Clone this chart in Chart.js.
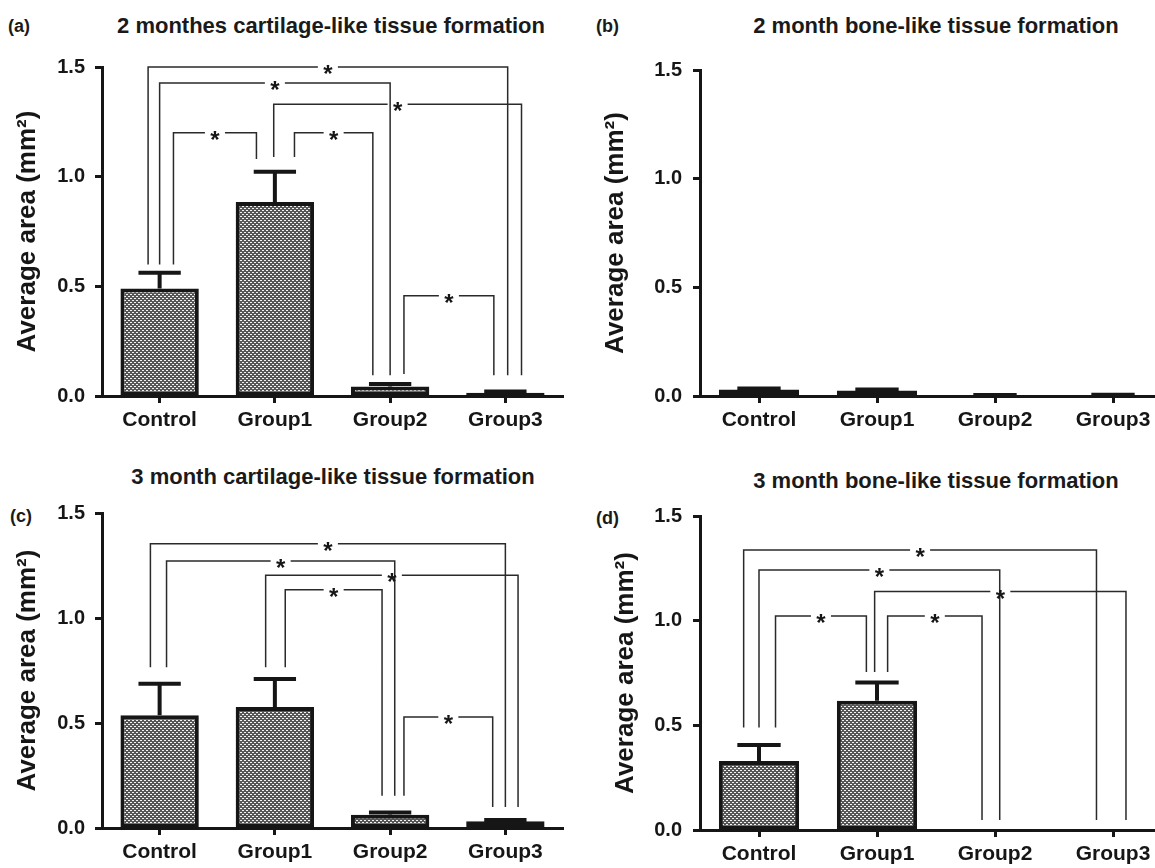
<!DOCTYPE html>
<html>
<head>
<meta charset="utf-8">
<script src="https://cdn.jsdelivr.net/npm/chart.js@4.4.0/dist/chart.umd.min.js"></script>
<style>
  html, body { margin: 0; padding: 0; background: #fff; }
  body { position: relative; width: 1155px; height: 868px; overflow: hidden; font-family: "Liberation Sans", Arial, sans-serif; color: #1a1a1a; }
  .panel { position: absolute; }
  .ttl { position: absolute; font-weight: bold; font-size: 22px; white-space: nowrap; transform: translate(-50%, -50%); }
  .lbl { position: absolute; font-weight: bold; font-size: 18px; transform: translateY(-50%); }
</style>
</head>
<body>
<div class="lbl" style="left:8px;top:26px">(a)</div>
<div class="ttl" style="left:331px;top:26px">2 monthes cartilage-like tissue formation</div>
<div class="lbl" style="left:596px;top:26px">(b)</div>
<div class="ttl" style="left:936px;top:26px">2 month bone-like tissue formation</div>
<div class="ttl" style="left:333px;top:477px">3 month cartilage-like tissue formation</div>
<div class="lbl" style="left:10px;top:516px">(c)</div>
<div class="ttl" style="left:936px;top:481px">3 month bone-like tissue formation</div>
<div class="lbl" style="left:596px;top:518px">(d)</div>

<canvas id="ca" class="panel" width="578" height="440" style="left:0;top:0"></canvas>
<canvas id="cb" class="panel" width="600" height="440" style="left:578px;top:0"></canvas>
<canvas id="cc" class="panel" width="578" height="428" style="left:0;top:440px"></canvas>
<canvas id="cd" class="panel" width="600" height="428" style="left:578px;top:440px"></canvas>

<script>
var groups = ["Control", "Group1", "Group2", "Group3"];
var yTicks = [0, 0.5, 1.0, 1.5];

// (a) 2 months cartilage-like
var meanA = [0.49, 0.885, 0.043, 0.015];
var errA = [0.072, 0.137, 0.012, 0.005];
// significance brackets: [left x, right x, height, left leg end, right leg end]
var sigA = [
  [-0.10, 3.02, 1.50, 0.60, 0.095],
  [0.00, 2.00, 1.427, 0.60, 0.095],
  [0.99, 3.14, 1.33, 1.09, 0.095],
  [0.12, 0.84, 1.20, 0.60, 1.08],
  [1.17, 1.85, 1.20, 1.09, 0.095],
  [2.12, 2.90, 0.457, 0.10, 0.095]
];

// (b) 2 month bone-like
var meanB = [0.03, 0.025, 0.004, 0.005];
var errB = [0.005, 0.005, 0.001, 0.001];
var sigB = [];

// (c) 3 month cartilage-like
var meanC = [0.537, 0.576, 0.063, 0.032];
var errC = [0.15, 0.134, 0.011, 0.006];
var sigC = [
  [-0.08, 3.00, 1.353, 0.766, 0.10],
  [0.06, 2.04, 1.271, 0.766, 0.153],
  [0.92, 3.11, 1.203, 0.766, 0.10],
  [1.09, 1.93, 1.134, 0.766, 0.153],
  [2.12, 2.89, 0.529, 0.153, 0.10]
];

// (d) 3 month bone-like
var meanD = [0.33, 0.618, 0.003, 0.003];
var errD = [0.076, 0.087, 0, 0];
var sigD = [
  [-0.13, 2.86, 1.338, 0.49, 0.048],
  [0.00, 2.04, 1.242, 0.49, 0.048],
  [0.98, 3.11, 1.139, 0.755, 0.048],
  [0.14, 0.91, 1.022, 0.49, 0.755],
  [1.09, 1.89, 1.022, 0.755, 0.048]
];

var FONT = "'Liberation Sans', Arial, sans-serif";
var INK = "#161616";

function checker(ctx) {
  var c = document.createElement("canvas");
  c.width = 4; c.height = 4;
  var g = c.getContext("2d");
  g.fillStyle = "#575757";
  g.fillRect(0, 0, 4, 4);
  g.fillStyle = "#f4f4f4";
  g.fillRect(0, 0, 2, 1);
  g.fillRect(2, 2, 2, 1);
  return ctx.createPattern(c, "repeat");
}

function marks(mean, err, sig) {
  return {
    id: "marks",
    afterDatasetsDraw: function(chart) {
      var ctx = chart.ctx, xs = chart.scales.x, ys = chart.scales.y;
      var meta = chart.getDatasetMeta(0);
      ctx.save();
      ctx.strokeStyle = INK;
      ctx.lineWidth = 4;
      for (var i = 0; i < err.length; i++) {
        if (!err[i]) continue;
        var bar = meta.data[i];
        var y0 = ys.getPixelForValue(mean[i]);
        var y1 = ys.getPixelForValue(mean[i] + err[i]);
        var half = bar.width * 0.27;
        ctx.beginPath();
        ctx.moveTo(bar.x, y0);
        ctx.lineTo(bar.x, y1);
        ctx.moveTo(bar.x - half, y1);
        ctx.lineTo(bar.x + half, y1);
        ctx.stroke();
      }
      // significance brackets with a star in the gap
      ctx.strokeStyle = "#2a2a2a";
      ctx.lineWidth = 1.5;
      ctx.fillStyle = INK;
      ctx.font = "bold 24px " + FONT;
      ctx.textAlign = "center";
      ctx.textBaseline = "alphabetic";
      sig.forEach(function(s) {
        var xa = xs.getPixelForValue(s[0]), xb = xs.getPixelForValue(s[1]);
        var y = ys.getPixelForValue(s[2]);
        var mid = (xa + xb) / 2, gap = 10;
        ctx.beginPath();
        ctx.moveTo(xa, ys.getPixelForValue(s[3]));
        ctx.lineTo(xa, y);
        ctx.lineTo(mid - gap, y);
        ctx.moveTo(mid + gap, y);
        ctx.lineTo(xb, y);
        ctx.lineTo(xb, ys.getPixelForValue(s[4]));
        ctx.stroke();
        ctx.fillText("*", mid, y + 15);
      });
      ctx.restore();
    }
  };
}

function panel(id, mean, err, sig, box) {
  var cv = document.getElementById(id);
  var gridOpts = { display: true, drawOnChartArea: false, offset: false, tickLength: 7, tickWidth: 3, tickColor: INK };
  new Chart(cv, {
    type: "bar",
    data: {
      labels: groups,
      datasets: [{
        data: mean,
        backgroundColor: checker(cv.getContext("2d")),
        borderColor: INK,
        borderWidth: 4,
        borderSkipped: false,
        barPercentage: 0.68,
        categoryPercentage: 1
      }]
    },
    options: {
      responsive: false,
      animation: false,
      layout: { padding: { left: 0, top: box.top, right: cv.width - box.right, bottom: 0 } },
      plugins: { legend: { display: false }, tooltip: { enabled: false } },
      scales: {
        x: {
          offset: true,
          grid: gridOpts,
          border: { color: INK, width: 3 },
          ticks: { color: INK, padding: 5, maxRotation: 0, font: { family: FONT, size: 21, weight: "bold" } },
          afterFit: function(s) { s.height = cv.height - box.bottom; }
        },
        y: {
          min: 0,
          max: 1.5,
          grid: gridOpts,
          border: { color: INK, width: 3 },
          ticks: {
            color: INK, padding: box.tickPad,
            font: { family: FONT, size: 20, weight: "bold" },
            callback: function(v) { return Number(v).toFixed(1); }
          },
          afterBuildTicks: function(s) { s.ticks = yTicks.map(function(v) { return { value: v }; }); },
          afterFit: function(s) { s.width = box.left; },
          title: {
            display: true,
            text: "Average area (mm²)",
            color: INK,
            font: { family: FONT, size: 26, weight: "bold" },
            padding: { top: box.titlePad, bottom: 0 }
          }
        }
      }
    },
    plugins: [marks(mean, err, sig)]
  });
}

panel("ca", meanA, errA, sigA, { left: 102, right: 563, top: 67, bottom: 396, tickPad: 10, titlePad: 12 });
panel("cb", meanB, errB, sigB, { left: 122, right: 594, top: 70, bottom: 396, tickPad: 11, titlePad: 22 });
panel("cc", meanC, errC, sigC, { left: 102, right: 563, top: 73, bottom: 388, tickPad: 10, titlePad: 12 });
panel("cd", meanD, errD, sigD, { left: 122, right: 594, top: 76, bottom: 390, tickPad: 11, titlePad: 32 });
</script>
</body>
</html>
